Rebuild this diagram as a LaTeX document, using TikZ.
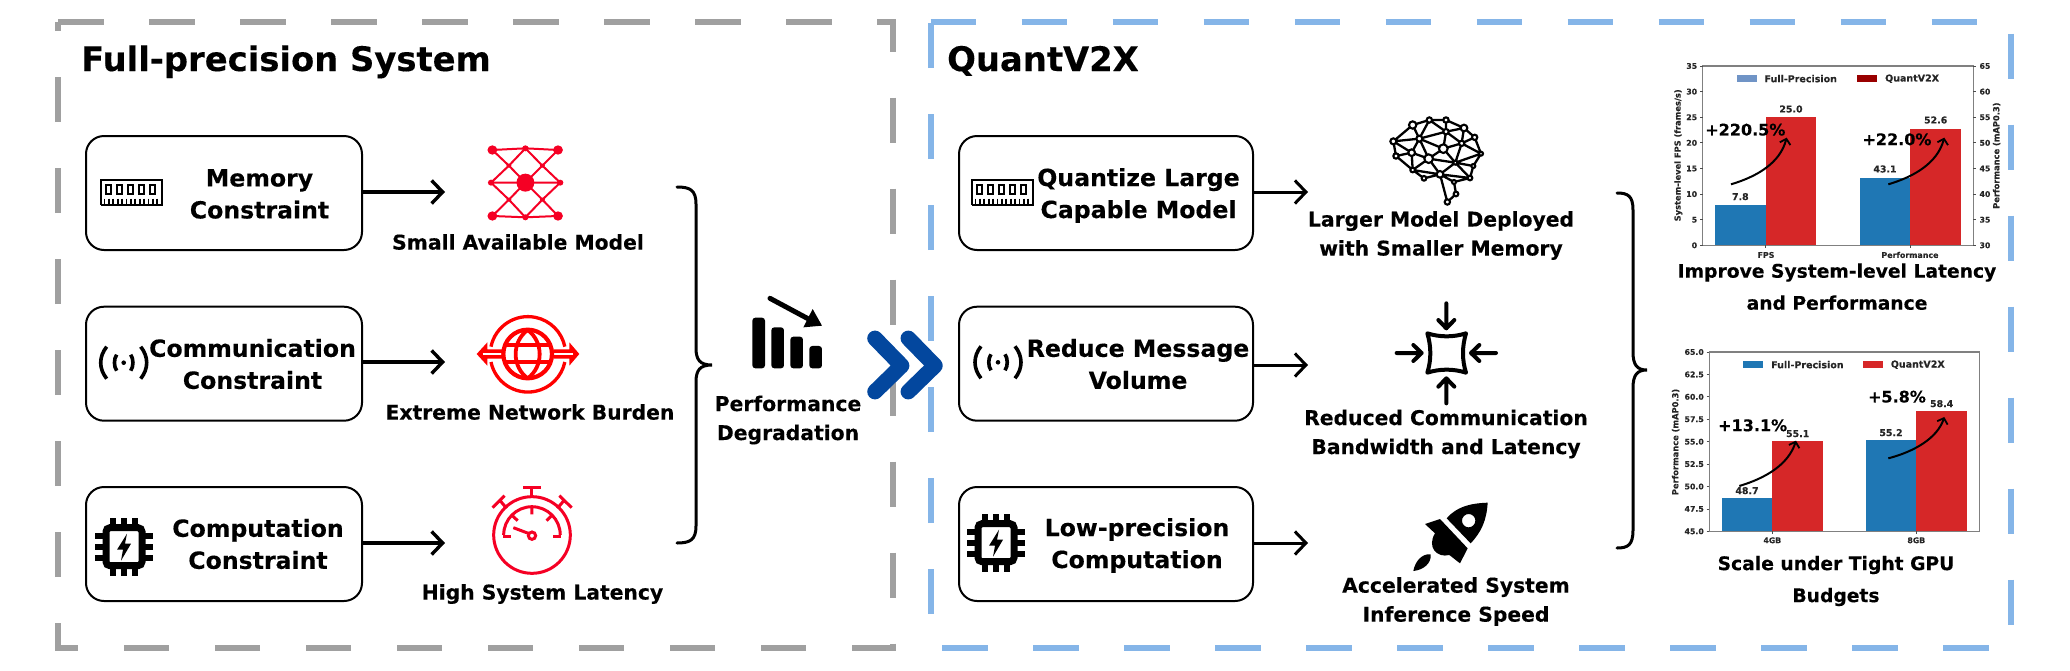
\documentclass[tikz,border=0pt]{standalone}
\usepackage{fontspec}
\setmainfont{DejaVu Sans}[BoldFeatures={FakeBold=0.25}]
\usetikzlibrary{arrows.meta}
\definecolor{greydash}{HTML}{A0A0A0}
\definecolor{bluedash}{HTML}{85B5E8}
\definecolor{iconred}{HTML}{F50024}
\definecolor{pureRed}{HTML}{FF0000}
\definecolor{chev}{HTML}{03479E}
\definecolor{mplblue}{HTML}{1F77B4}
\definecolor{mplred}{HTML}{D62728}
\definecolor{legblue}{HTML}{7094C6}
\definecolor{legred}{HTML}{990000}
\definecolor{spine}{HTML}{808080}
\tikzset{
  panelgrey/.style={draw=greydash,line width=6pt,dash pattern=on 45.5pt off 45.5pt,line join=miter},
  panelblue/.style={draw=bluedash,line width=6pt,dash pattern=on 45.5pt off 45.5pt,line join=miter},
  bx/.style={draw=black,line width=2pt,rounded corners=18pt,minimum width=276pt,minimum height=114pt,inner sep=0pt},
  bxr/.style={bx,minimum width=294pt},
  boxtext/.style={inner sep=0pt,align=center,font=\fontsize{23.6}{32}\selectfont\bfseries},
  lbl/.style={inner sep=0pt,align=center,font=\fontsize{20.3}{29}\selectfont\bfseries},
  capt/.style={inner sep=0pt,align=center,font=\fontsize{18.7}{32}\selectfont\bfseries},
  titletext/.style={inner sep=0pt,anchor=base west,font=\fontsize{33.8}{40}\selectfont\bfseries},
  flow/.style={line width=3.4pt,-{Straight Barb[length=11pt,width=23pt,line width=3.4pt]}},
  flowthin/.style={line width=3pt,-{Straight Barb[length=11pt,width=23pt,line width=3pt]}},
  brace/.style={line width=3pt,line cap=round},
  tick/.style={inner sep=0pt,font=\fontsize{7.8}{9}\selectfont\bfseries,text=black!85},
  axt/.style={inner sep=0pt,font=\fontsize{8.3}{9}\selectfont\bfseries,text=black!85},
  val/.style={inner sep=0pt,font=\fontsize{9.4}{10}\selectfont\bfseries,text=black!85},
  leg/.style={inner sep=0pt,anchor=west,font=\fontsize{9.5}{10}\selectfont\bfseries,text=black!85},
  gain/.style={inner sep=0pt,font=\fontsize{16}{18}\selectfont\bfseries},
  curve/.style={line width=2pt,-{Straight Barb[length=5pt,width=11pt,line width=1.8pt]}},
  spineline/.style={draw=spine,line width=1.2pt},
  tickline/.style={draw=black!70,line width=.8pt},
  memicon/.pic={
    \draw[line width=2pt] (0,25) -- (0,0) -- (61,0) -- (61,25) -- (0,25);
    \foreach \k in {0,1,2,3,4}{\draw[line width=1.8pt] ({5.8+\k*11},5.5) rectangle ({10.8+\k*11},14.5);}
    \foreach \k in {0,...,12}{\draw[line width=1.8pt] ({4+\k*4.4},19) -- ({4+\k*4.4},25);}
  },
  wifiicon/.pic={
    \fill (0,0) circle[radius=2.3pt];
    \draw[line width=3.6pt] (-7,-8) .. controls (-10,-4) and (-10,4) .. (-7,8);
    \draw[line width=3.6pt] (7,-8) .. controls (10,-4) and (10,4) .. (7,8);
    \draw[line width=3.6pt] (-17,-16) .. controls (-25,-6) and (-25,6) .. (-17,16);
    \draw[line width=3.6pt] (17,-16) .. controls (25,-6) and (25,6) .. (17,16);
  },
  chipicon/.pic={
    \foreach \k in {-11,0,11}{
      \fill (\k-3,-29) rectangle (\k+3,-18);
      \fill (\k-3,18) rectangle (\k+3,29);
      \fill (-29,\k-3) rectangle (-18,\k+3);
      \fill (18,\k-3) rectangle (29,\k+3);
    }
    \draw[line width=7pt,rounded corners=4pt] (-18,-19) rectangle (18,19);
    \fill (3,-13) -- (-7,3) -- (-1,3) -- (-3,14) -- (7,-3) -- (1,-3) -- cycle;
  }
}
\begin{document}
\begin{tikzpicture}[x=1pt,y=-1pt]
\useasboundingbox (0,0) rectangle (2070,670);

% dashed panels
\draw[panelgrey] (58,22) -- (892.5,22) -- (892.5,648) -- (58,648) -- cycle;
\draw[panelblue] (930.5,22) -- (2011,22) -- (2011,648) -- (930.5,648) -- cycle;

% titles
\node[titletext] (t1) at (81,71) {Full-precision System};
\node[titletext] (t2) at (947,71) {QuantV2X};

% left boxes
\node[bx] (a1) at (224,193) {};
\node[bx] (a2) at (224,363.7) {};
\node[bx] (a3) at (224,544) {};
\node[boxtext] (a1t) at (259.5,194) {Memory\\Constraint};
\node[boxtext] (a2t) at (252.5,364) {Communication\\Constraint};
\node[boxtext] (a3t) at (258,544) {Computation\\Constraint};
\pic at (100.5,179.5) {memicon};
\pic at (123.7,362.7) {wifiicon};
\pic at (124,546.7) {chipicon};

% right boxes
\node[bxr] (b1) at (1106,193) {};
\node[bxr] (b2) at (1106,363.7) {};
\node[bxr] (b3) at (1106,544) {};
\node[boxtext] (b1t) at (1138.5,195.5) {Quantize Large\\Capable Model};
\node[boxtext] (b2t) at (1138,364) {Reduce Message\\Volume};
\node[boxtext] (b3t) at (1137,545.5) {Low-precision\\Computation};
\pic at (971.5,179.5) {memicon};
\pic at (998,362.3) {wifiicon};
\pic at (996,542.7) {chipicon};

% arrows
\coordinate (e1) at (445,192);
\coordinate (e2) at (445,362);
\coordinate (e3) at (445,543);
\coordinate (f1) at (1308,192);
\coordinate (f2) at (1308,365);
\coordinate (f3) at (1308,543);
\draw[flow] (a1.east |- e1) -- (e1);
\draw[flow] (a2.east |- e2) -- (e2);
\draw[flow] (a3.east |- e3) -- (e3);
\draw[flowthin] (b1.east |- f1) -- (f1);
\draw[flowthin] (b2.east |- f2) -- (f2);
\draw[flowthin] (b3.east |- f3) -- (f3);

% left labels
\node[lbl] (l1) at (518,242) {Small Available Model};
\node[lbl] (l2) at (530,412) {Extreme Network Burden};
\node[lbl] (l3) at (542.5,594) {High System Latency};
\node[lbl] (pd) at (788,420) {Performance\\Degradation};

% right labels
\node[lbl] (r1) at (1441,235.5) {Larger Model Deployed\\with Smaller Memory};
\node[lbl] (r2) at (1446,434) {Reduced Communication\\Bandwidth and Latency};
\node[lbl] (r3) at (1456,601.5) {Accelerated System\\Inference Speed};

% network icon (zoom coords)
\begin{scope}[x=0.4464pt,y=-0.3333pt,iconred,fill=iconred]
  \draw[line width=2pt]
    (1103,450)--(1177,445)--(1250,450)
    (1103,648)--(1177,652)--(1250,648)
    (1103,450)--(1140,497)--(1177,548)--(1215,497)--(1250,450)
    (1103,648)--(1140,599)--(1177,548)--(1215,599)--(1250,648)
    (1177,445)--(1140,497)--(1100,548)--(1140,599)--(1177,652)
    (1177,445)--(1215,497)--(1255,548)--(1215,599)--(1177,652)
    (1100,548)--(1255,548);
  \foreach \cx/\cy in {1103/450,1250/450,1103/648,1250/648}{\fill (\cx,\cy) circle[x radius=11,y radius=14];}
  \foreach \cx/\cy in {1177/445,1177/652,1100/548,1255/548}{\fill (\cx,\cy) circle[x radius=7,y radius=9];}
  \foreach \cx/\cy in {1140/497,1215/497,1140/599,1215/599}{\fill (\cx,\cy) circle[x radius=5.5,y radius=6];}
  \fill (1177,548) circle[x radius=20,y radius=27];
\end{scope}

% globe icon
\begin{scope}[shift={(460,305)},x=0.3333pt,y=-0.3333pt,pureRed,fill=pureRed]
  \draw[line width=3.3pt] (93,125) arc[start angle=168.3,end angle=11.7,radius=37.7pt];
  \draw[line width=3.3pt] (93,171) arc[start angle=191.7,end angle=348.3,radius=37.7pt];
  \fill (50,147)--(82,112)--(82,133)--(130,133)--(130,161)--(82,161)--(82,182)--cycle;
  \fill (358,147)--(328,112)--(328,133)--(280,133)--(280,161)--(328,161)--(328,182)--cycle;
  \draw[white,line width=2.4pt] (68,147)--(130,147) (340,147)--(280,147);
  \fill[white] (203,147) circle[radius=73];
  \draw[line width=4.2pt] (203,147) circle[radius=73];
  \draw[line width=3.8pt] (203,75) .. controls (155,110) and (155,185) .. (203,220);
  \draw[line width=3.8pt] (203,75) .. controls (251,110) and (251,185) .. (203,220);
  \draw[line width=3.8pt] (135,120)--(271,120) (135,172)--(271,172);
\end{scope}

% stopwatch
\begin{scope}[shift={(470,480)},x=0.3333pt,y=-0.3333pt,iconred]
  \draw[line width=3pt] (186,165) circle[radius=115];
  \draw[line width=3pt] (101,165) arc[start angle=180,end angle=0,radius=28.3pt];
  \draw[line width=3pt] (100,168)--(122,168) (272,168)--(250,168);
  \draw[line width=3pt] (186,80)--(186,103) (127,107)--(143,122) (245,107)--(230,122);
  \draw[line width=3pt] (130,143)--(175,160);
  \draw[line width=3pt] (186,167) circle[radius=11];
  \draw[line width=3pt] (186,50)--(186,22) (160,22)--(212,22);
  \draw[line width=3pt] (110,85)--(87,58) (68,83)--(104,47);
  \draw[line width=3pt] (262,85)--(285,58) (268,47)--(305,83);
\end{scope}

% falling bars
\begin{scope}[shift={(700,280)},x=0.3333pt,y=-0.3333pt]
  \fill[rounded corners=3pt] (157,265)--(157,113)--(195,113)--(195,265)--cycle;
  \fill[rounded corners=3pt] (214,265)--(214,142)--(252,142)--(252,265)--cycle;
  \fill[rounded corners=3pt] (271,265)--(271,170)--(309,170)--(309,265)--cycle;
  \fill[rounded corners=3pt] (328,265)--(328,198)--(366,198)--(366,265)--cycle;
  \draw[line width=5pt,line cap=round] (210,55)--(335,122);
  \fill (366,137)--(338,87)--(310,142)--cycle;
\end{scope}

% brain
\begin{scope}[shift={(1370,100)},x=0.3333pt,y=-0.3333pt]
  \foreach \n/\cx/\cy in {a/70/124,bb/128/75,cc/178/60,d/228/60,ee/282/84,ff/314/112,gg/333/161,hh/310/198,ii/300/234,jj/252/246,kk/258/282,ll/232/306,mm/210/223,nn/162/235,oo/128/210,pp/78/168,qq/125/158,rr/148/116,ss/176/176,tt/220/146,uu/228/95,vv/275/130,ww/256/188}
    {\coordinate (\n) at (\cx,\cy);}
  \draw[line width=2.3pt] (a)--(bb)--(cc)--(d)--(ee)--(ff)--(gg)--(hh)--(ii)--(jj)--(kk)--(ll)--(mm)--(nn)--(oo)--(pp)--(a)
    (a)--(rr) (bb)--(rr) (rr)--(cc) (cc)--(uu) (d)--(uu) (uu)--(ee) (ee)--(vv) (ff)--(vv) (uu)--(vv) (uu)--(rr)
    (rr)--(qq) (a)--(qq) (qq)--(pp) (qq)--(oo) (qq)--(ss) (rr)--(ss) (rr)--(tt) (tt)--(uu) (tt)--(vv) (vv)--(ww)
    (ss)--(ww) (tt)--(ww) (ww)--(gg) (ww)--(hh) (ww)--(ii) (ww)--(mm) (ss)--(mm) (oo)--(mm) (oo)--(ss) (vv)--(gg)
    (jj)--(mm) (mm)--(ii) (ss)--(tt);
  \foreach \n/\rr in {a/9,bb/11,cc/8,d/8,ee/10,ff/8,gg/6,hh/6,ii/7,jj/6,kk/7,ll/8,mm/10,nn/7,oo/7,pp/8,qq/10,rr/9,ss/13,tt/13,uu/8,vv/8,ww/6}
    {\filldraw[fill=white,draw=black,line width=2.1pt] (\n) circle[radius=\rr];}
\end{scope}

% compress icon
\begin{scope}[shift={(1370,290)},x=0.3333pt,y=-0.3333pt]
  \draw[line width=4pt,line join=round] (172,130) .. controls (210,142) and (250,142) .. (288,130) .. controls (276,170) and (276,210) .. (288,248) .. controls (250,236) and (210,236) .. (172,248) .. controls (184,210) and (184,170) .. cycle;
  \draw[line width=4pt,line cap=round,line join=round]
    (229,40)--(229,115) (205,90)--(229,115)--(253,90)
    (229,340)--(229,265) (205,290)--(229,265)--(253,290)
    (80,189)--(155,189) (130,165)--(155,189)--(130,213)
    (378,189)--(303,189) (328,165)--(303,189)--(328,213);
\end{scope}

% rocket
\begin{scope}[shift={(1390,490)},x=0.3333pt,y=-0.3333pt]
  \fill[even odd rule] (293,38) .. controls (240,40) and (200,50) .. (170,85) -- (242,160) .. controls (275,125) and (290,90) .. (293,38) -- cycle
     (236,92) circle[radius=20];
  \fill (105,102)--(150,87)--(233,175)--(210,220)--(178,195) .. controls (140,205) and (110,170) .. (135,130) -- cycle;
  \fill (70,243) .. controls (75,215) and (95,190) .. (122,193) .. controls (125,220) and (100,240) .. (70,243) -- cycle;
\end{scope}

% braces
\draw[brace] (677,187) .. controls (690,187) and (696,190) .. (696,204) -- (696,348) .. controls (696,360) and (700,365) .. (712,365) .. controls (700,365) and (696,370) .. (696,382) -- (696,526) .. controls (696,540) and (690,543) .. (677,543);
\draw[brace] (1617,193) .. controls (1628,193) and (1633,196) .. (1633,210) -- (1633,352) .. controls (1633,365) and (1637,370) .. (1647,370) .. controls (1637,370) and (1633,375) .. (1633,388) -- (1633,530) .. controls (1633,545) and (1628,548) .. (1617,548);

% chevrons
\begin{scope}[shift={(700,280)},x=0.3333pt,y=-0.3333pt]
  \draw[chev,line width=15.5pt,line cap=round,line join=round] (525,175)--(605,257)--(525,335);
  \draw[chev,line width=15.5pt,line cap=round,line join=round] (625,175)--(705,257)--(625,335);
\end{scope}

% chart 1
\begin{scope}[shift={(1620,40)},x=0.3333pt,y=-0.3333pt]
  \fill[mplblue] (285,616) rectangle (437,495);
  \fill[mplred] (437,616) rectangle (589,232);
  \fill[mplblue] (719,616) rectangle (870,414);
  \fill[mplred] (870,616) rectangle (1022,268);
  \draw[spineline] (248,616)--(248,78)--(1060,78)--(1060,616)--cycle;
  \foreach \v [count=\i from 0] in {0,5,10,15,20,25,30,35}{
    \draw[tickline] (240,{616-\i*76.857})--(248,{616-\i*76.857});
    \node[tick,anchor=east] (c1l\i) at (232,{616-\i*76.857}) {\v};
  }
  \foreach \v [count=\i from 0] in {30,35,40,45,50,55,60,65}{
    \draw[tickline] (1060,{616-\i*76.857})--(1068,{616-\i*76.857});
    \node[tick,anchor=west] (c1r\i) at (1078,{616-\i*76.857}) {\v};
  }
  \draw[tickline] (437,616)--(437,624) (870,616)--(870,624);
  \node[tick,font=\fontsize{7.9}{9}\selectfont\bfseries] (c1x1) at (438,645) {FPS};
  \node[tick,font=\fontsize{7.9}{9}\selectfont\bfseries] (c1x2) at (870,645) {Performance};
  \node[axt,rotate=90] (c1yl) at (175,346) {System-level FPS (frames/s)};
  \node[axt,rotate=90] (c1yr) at (1130,347) {Performance (mAP0.3)};
  \fill[legblue] (350,105) rectangle (410,127);
  \fill[legred] (711,105) rectangle (772,127);
  \node[leg] (c1a) at (433,116) {Full-Precision};
  \node[leg] (c1b) at (795,116) {QuantV2X};
  \node[val] (c1v1) at (361,470) {7.8};
  \node[val] (c1v2) at (513,207) {25.0};
  \node[val] (c1v3) at (795,387) {43.1};
  \node[val] (c1v4) at (947,240) {52.6};
  \coordinate (c1s1) at (333,433); \coordinate (c1e1) at (500,293);
  \coordinate (c1s2) at (805,433); \coordinate (c1e2) at (973,293);
  \draw[curve] (c1s1) .. controls (410,410) and (480,370) .. (c1e1);
  \draw[curve] (c1s2) .. controls (882,410) and (952,370) .. (c1e2);
  \node[gain] (c1g1) at (376,269) {+220.5\%};
  \node[gain] (c1g2) at (831,298) {+22.0\%};
\end{scope}
\node[capt] (cap1) at (1837,286.7) {Improve System-level Latency\\and Performance};

% chart 2
\begin{scope}[shift={(1620,330)},x=0.3333pt,y=-0.3333pt]
  \fill[mplblue] (306,604) rectangle (457,505);
  \fill[mplred] (457,604) rectangle (608,332);
  \fill[mplblue] (738,604) rectangle (889,329);
  \fill[mplred] (889,604) rectangle (1040,244);
  \draw[spineline] (268,604)--(268,66)--(1078,66)--(1078,604)--cycle;
  \foreach \v [count=\i from 0] in {45.0,47.5,50.0,52.5,55.0,57.5,60.0,62.5,65.0}{
    \draw[tickline] (260,{604-\i*67.25})--(268,{604-\i*67.25});
    \node[tick,anchor=east] (c2l\i) at (252,{604-\i*67.25}) {\v};
  }
  \draw[tickline] (457,604)--(457,612) (889,604)--(889,612);
  \node[tick] (c2x1) at (457,631) {4GB};
  \node[tick] (c2x2) at (889,631) {8GB};
  \node[axt,rotate=90] (c2yl) at (167,336) {Performance (mAP0.3)};
  \fill[mplblue] (370,93) rectangle (428,115);
  \fill[mplred] (730,93) rectangle (788,115);
  \node[leg] (c2a) at (453,104) {Full-Precision};
  \node[leg] (c2b) at (812,104) {QuantV2X};
  \node[val] (c2v1) at (381,482) {48.7};
  \node[val] (c2v2) at (533,311) {55.1};
  \node[val] (c2v3) at (813,308) {55.2};
  \node[val] (c2v4) at (965,221) {58.4};
  \coordinate (c2s1) at (358,468); \coordinate (c2e1) at (528,332);
  \coordinate (c2s2) at (805,385); \coordinate (c2e2) at (973,261);
  \draw[curve] (c2s1) .. controls (435,445) and (505,405) .. (c2e1);
  \draw[curve] (c2s2) .. controls (882,365) and (952,325) .. (c2e2);
  \node[gain] (c2g1) at (398,286) {+13.1\%};
  \node[gain] (c2g2) at (831,200) {+5.8\%};
\end{scope}
\node[capt] (cap2) at (1836,581) {Scale under Tight GPU\\Budgets};
\end{tikzpicture}
\end{document}
